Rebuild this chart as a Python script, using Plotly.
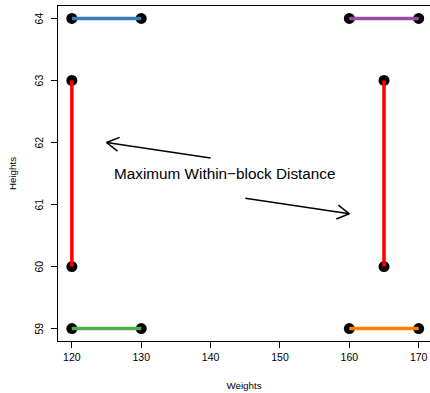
import math
import plotly.graph_objects as go

# Data
weights = [120, 130, 160, 170, 120, 120, 165, 165, 120, 130, 160, 170]
heights = [64, 64, 64, 64, 63, 60, 63, 60, 59, 59, 59, 59]

seg_x0 = [120, 160, 120, 160, 120, 165]
seg_x1 = [130, 170, 130, 170, 120, 165]
seg_y0 = [64, 64, 59, 59, 60, 60]
seg_y1 = [64, 64, 59, 59, 63, 63]
seg_colors = ["#377EB8", "#984EA3", "#4DAF4A", "#FF7F00", "#FF0000", "#FF0000"]

label_text = "Maximum Within\u2212block Distance"
label_x, label_y = 142, 61.5
arrow_x0 = [140, 145]
arrow_y0 = [61.75, 61.1]
arrow_x1 = [125, 160]
arrow_y1 = [62.0, 60.85]

x_ticks = [120, 130, 140, 150, 160, 170]
y_ticks = [59, 60, 61, 62, 63, 64]

W, H = 430, 393
ml, mr, mt, mb = 58, 0, 6, 52
xr = [118, 171.63]
yr = [58.8, 64.2]
pw, ph = W - ml - mr, H - mt - mb
sx = pw / (xr[1] - xr[0])
sy = ph / (yr[1] - yr[0])

fig = go.Figure()

fig.add_trace(go.Scatter(x=weights, y=heights, mode="markers",
                         marker=dict(color="black", size=11), hoverinfo="skip",
                         showlegend=False))

for a, b, c, d, col in zip(seg_x0, seg_x1, seg_y0, seg_y1, seg_colors):
    fig.add_trace(go.Scatter(x=[a, b], y=[c, d], mode="lines",
                             line=dict(color=col, width=3.5), hoverinfo="skip",
                             showlegend=False))

# arrows with open heads
head_len = 14
for a, b, c, d in zip(arrow_x0, arrow_y0, arrow_x1, arrow_y1):
    dxp = (c - a) * sx
    dyp = (d - b) * sy
    ang = math.atan2(dyp, dxp)
    xs = [a, c, None]
    ys = [b, d, None]
    for s in (1, -1):
        t = ang + math.pi - s * math.radians(30)
        hx = c + head_len * math.cos(t) / sx
        hy = d + head_len * math.sin(t) / sy
        xs += [c, hx, None]
        ys += [d, hy, None]
    fig.add_trace(go.Scatter(x=xs, y=ys, mode="lines",
                             line=dict(color="black", width=1.5), hoverinfo="skip",
                             showlegend=False))

fig.add_annotation(x=label_x, y=label_y, text=label_text, showarrow=False,
                   font=dict(size=15.3, color="black", family="Liberation Sans, Arial"))

# rotated y tick labels
for v in y_ticks:
    fig.add_annotation(x=0, xref="paper", y=v, yref="y", text=str(v),
                       textangle=-90, showarrow=False, xanchor="center",
                       yanchor="middle", xshift=-19,
                       font=dict(size=10.5, color="black"))

fig.update_layout(
    width=W, height=H, margin=dict(l=ml, r=mr, t=mt, b=mb),
    plot_bgcolor="white", paper_bgcolor="white",
    font=dict(family="Liberation Sans, Arial", color="black"),
    xaxis=dict(range=xr, tickvals=x_ticks, ticks="outside", ticklen=6,
               tickcolor="black", showgrid=False, zeroline=False,
               showline=True, linecolor="black", linewidth=1, mirror=True,
               ticklabelstandoff=0,
               tickfont=dict(size=10.5), title=dict(text="Weights", font=dict(size=9.8), standoff=20)),
    yaxis=dict(range=yr, tickvals=y_ticks, ticks="outside", ticklen=6,
               tickcolor="black", showgrid=False, zeroline=False,
               showline=True, linecolor="black", linewidth=1, mirror=True,
               showticklabels=False,
               title=dict(text="Heights", font=dict(size=9.8), standoff=32)),
)

fig.write_html("out.html")
